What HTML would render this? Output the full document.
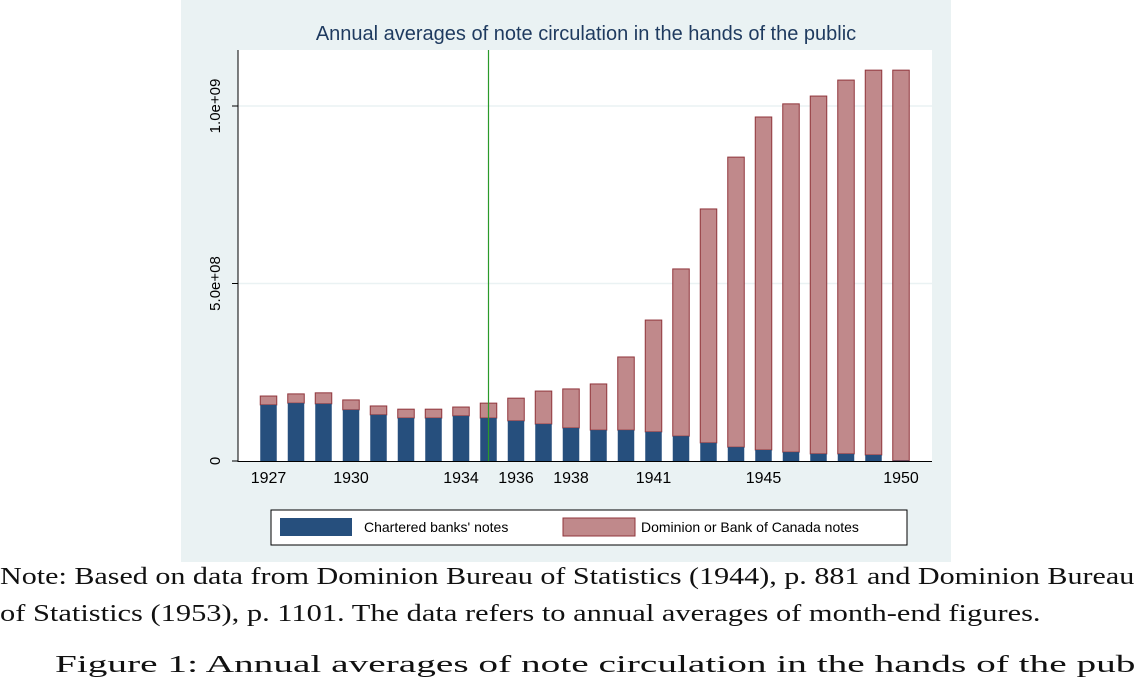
<!DOCTYPE html>
<html><head><meta charset="utf-8"><style>
body{margin:0;width:1136px;height:664px;overflow:hidden;background:#fff;font-family:"Liberation Sans",sans-serif}
.note{position:absolute;left:0;font-family:"Liberation Serif",serif;font-size:24px;color:#111;white-space:nowrap;transform-origin:0 0}
</style></head><body>
<svg width="1136" height="664" style="position:absolute;left:0;top:0">
<rect x="181" y="0" width="770" height="562" fill="#eaf2f3"/>
<rect x="238" y="50" width="694" height="412" fill="#fff"/>
<text x="586" y="40" text-anchor="middle" font-size="20" fill="#1e3a5f">Annual averages of note circulation in the hands of the public</text>
<g id="grid"></g><g id="bars"></g><g id="axes"></g>
<rect x="271" y="510" width="636" height="35" fill="#fff" stroke="#000" stroke-width="1"/>
<rect x="280" y="518" width="72" height="18" fill="#264f7d"/>
<text x="364" y="532" font-size="14">Chartered banks' notes</text>
<rect x="563" y="518" width="72" height="18" fill="#c0898b" stroke="#90353b"/>
<text x="641" y="532" font-size="14">Dominion or Bank of Canada notes</text>
</svg>
<div class="note" id="n1" style="top:564px">Note: Based on data from Dominion Bureau of Statistics (1944), p. 881 and Dominion Bureau</div>
<div class="note" id="n2" style="top:601px">of Statistics (1953), p. 1101. The data refers to annual averages of month-end figures.</div>
<div class="note" id="n3" style="top:652px;left:55px">Figure 1: Annual averages of note circulation in the hands of the public</div>
<script>
const years=[1927,1928,1929,1930,1931,1932,1933,1934,1935,1936,1937,1938,1939,1940,1941,1942,1943,1944,1945,1946,1947,1948,1949,1950];
const totals=[1.83e8,1.89e8,1.92e8,1.72e8,1.55e8,1.46e8,1.46e8,1.52e8,1.63e8,1.77e8,1.97e8,2.03e8,2.17e8,2.93e8,3.97e8,5.41e8,7.10e8,8.56e8,9.69e8,1.006e9,1.028e9,1.073e9,1.101e9,1.101e9];
const chartered=[1.58e8,1.63e8,1.61e8,1.44e8,1.30e8,1.21e8,1.21e8,1.27e8,1.21e8,1.13e8,1.04e8,0.93e8,0.87e8,0.87e8,0.82e8,0.70e8,0.51e8,0.39e8,0.31e8,0.25e8,0.20e8,0.20e8,0.17e8,0.01e8];
const xTicks=[1927,1930,1934,1936,1938,1941,1945,1950];
const yTicks=[0,5e8,1e9];
const yTickLabels=["0","5.0e+08","1.0e+09"];
const markerYear=1935.0;
const NS="http://www.w3.org/2000/svg";
const x=y=>268.5+(y-1927)*27.5;
const yS=v=>461-v*355e-9;
function mk(t,a,p){const e=document.createElementNS(NS,t);for(const k in a)e.setAttribute(k,a[k]);document.getElementById(p).appendChild(e);return e;}
yTicks.forEach((v,i)=>{
 if(v>0){const g=mk('line',{x1:238,x2:932,y1:yS(v),y2:yS(v),stroke:'#eaf2f3','stroke-width':1.5},'grid');
 
 }
 const t=mk('line',{x1:232,x2:238,y1:yS(v),y2:yS(v),stroke:'#000'},'axes');
 
 
 const l=mk('text',{x:0,y:0,'font-size':15,'text-anchor':'middle',transform:`translate(220,${yS(v)}) rotate(-90)`},'axes');
 l.textContent=yTickLabels[i];
 
 
});
years.forEach((yr,i)=>{
 const r1=mk('rect',{x:x(yr)-8.25,y:yS(totals[i]),width:16.5,height:yS(chartered[i])-yS(totals[i]),fill:'#c0898b',stroke:'#90353b','stroke-width':1},'bars');
 
 
 const r2=mk('rect',{x:x(yr)-8.25,y:yS(chartered[i]),width:16.5,height:461-yS(chartered[i]),fill:'#264f7d'},'bars');
 
 
});
const ml=mk('line',{x1:x(markerYear),x2:x(markerYear),y1:50,y2:461,stroke:'#2a9a2a','stroke-width':1.2},'axes');


const ya=mk('line',{x1:238,x2:238,y1:50,y2:462,stroke:'#000'},'axes');


const xa=mk('line',{x1:238,x2:932,y1:461.5,y2:461.5,stroke:'#000'},'axes');


xTicks.forEach(yr=>{
 const t=mk('text',{x:x(yr),y:483,'font-size':16,'text-anchor':'middle'},'axes');
 t.textContent=yr;
 
 
});
[['n1',1134],['n2',1040],['n3',1120]].forEach(([id,w])=>{
 const e=document.getElementById(id);
 e.style.transform='scaleX('+(w/e.offsetWidth)+')';
});
</script>
</body></html>
